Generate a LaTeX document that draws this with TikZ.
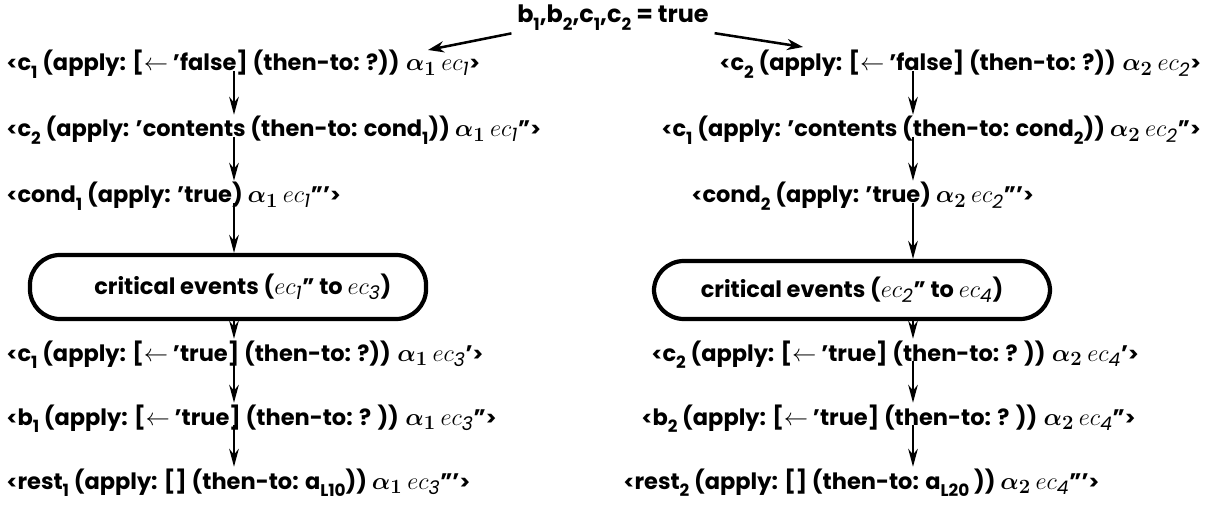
\documentclass[tikz,border=0pt]{standalone}
\usepackage{fontspec}
\setmainfont{Poppins}
\usetikzlibrary{arrows.meta}
\newcommand\dn[1]{\raisebox{-.6ex}{\fontsize{12}{12}\selectfont #1}}
\newcommand\ecs[1]{{\fontsize{19}{21}\selectfont$ec_{\mathit{#1}}$}}
\newcommand\al[1]{{\fontsize{19}{21}\selectfont\boldmath$\alpha_{#1}$}}
\newcommand\la{$\leftarrow$}
\newcommand\lb{{\fontsize{14}{14}\selectfont<}}
\newcommand\rb{{\fontsize{14}{14}\selectfont>}}

\begin{document}
\begin{tikzpicture}[x=0.025cm,y=-0.025cm,
  event/.style={anchor=base west,inner sep=1pt,font=\bfseries\fontsize{16}{18}\selectfont},
  crit/.style={draw,rounded corners=0.75cm,line width=3pt,inner sep=0pt,minimum width=9.9cm,font=\bfseries\fontsize{16}{18}\selectfont},
  flow/.style={-{Stealth[length=4.5mm,width=2.4mm]},line width=1.5pt},
  split/.style={-{Stealth[open,length=4mm,width=2.8mm]},line width=1.8pt,shorten <=3pt}]
  \useasboundingbox (0,0) rectangle (1223,525);
  \coordinate (lx) at (234,0);
  \coordinate (rx) at (913,0);
  \node[font=\bfseries\fontsize{17}{19}\selectfont,inner sep=1pt] (top) at (613,18) {b\dn{1},b\dn{2},c\dn{1},c\dn{2} = true};
  \coordinate (lend) at (428,50);
  \coordinate (rend) at (803,47);
  \draw[split] (top.south west) -- (lend);
  \draw[split] (top.south east) -- (rend);
  % left thread
  \node[event] (l1) at (5,71) {\lb c\dn{1} (apply: [\la\ 'false] (then-to: ?)) \al{1} \ecs{1}\rb};
  \node[event] (l2) at (5,137) {\lb c\dn{2} (apply: 'contents (then-to: cond\dn{1})) \al{1} \ecs{1}''\rb};
  \node[event] (l3) at (5,203) {\lb cond\dn{1} (apply: 'true) \al{1} \ecs{1}'''\rb};
  \node[crit,minimum height=1.6cm] (ce1) at (228,287) {\hspace*{21pt}critical events (\ecs{1}'' to \ecs{3})};
  \node[event] (l5) at (5,361) {\lb c\dn{1} (apply: [\la\ 'true] (then-to: ?)) \al{1} \ecs{3}'\rb};
  \node[event] (l6) at (5,425) {\lb b\dn{1} (apply: [\la\ 'true] (then-to: ? )) \al{1} \ecs{3}''\rb};
  \node[event] (l7) at (5,489) {\lb rest\dn{1} (apply: [] (then-to: a\dn{L10})) \al{1} \ecs{3}'''\rb};
  % right thread
  \node[event] (r1) at (718,71) {\lb c\dn{2} (apply: [\la\ 'false] (then-to: ?)) \al{2} \ecs{2}\rb};
  \node[event] (r2) at (660,137) {\lb c\dn{1} (apply: 'contents (then-to: cond\dn{2})) \al{2} \ecs{2}''\rb};
  \node[event] (r3) at (690,203) {\lb cond\dn{2} (apply: 'true) \al{2} \ecs{2}'''\rb};
  \node[crit,minimum height=1.45cm] (ce2) at (852,290) {critical events (\ecs{2}'' to \ecs{4})};
  \node[event] (r5) at (650,361) {\lb c\dn{2} (apply: [\la\ 'true] (then-to: ? )) \al{2} \ecs{4}'\rb};
  \node[event] (r6) at (640,425) {\lb b\dn{2} (apply: [\la\ 'true] (then-to: ? )) \al{2} \ecs{4}''\rb};
  \node[event] (r7) at (622,489) {\lb rest\dn{2} (apply: [] (then-to: a\dn{L20} )) \al{2} \ecs{4}'''\rb};
  \draw[flow] (l1.base -| lx) -- (l2.north -| lx);
  \draw[flow] (l2.base -| lx) -- (l3.north -| lx);
  \draw[flow] (l3.base -| lx) -- (ce1.north -| lx);
  \draw[flow] (ce1.south -| lx) -- (l5.north -| lx);
  \draw[flow] (l5.base -| lx) -- (l6.north -| lx);
  \draw[flow] (l6.base -| lx) -- (l7.north -| lx);
  \draw[flow] (r1.base -| rx) -- (r2.north -| rx);
  \draw[flow] (r2.base -| rx) -- (r3.north -| rx);
  \draw[flow] (r3.base -| rx) -- (ce2.north -| rx);
  \draw[flow] (ce2.south -| rx) -- (r5.north -| rx);
  \draw[flow] (r5.base -| rx) -- (r6.north -| rx);
  \draw[flow] (r6.base -| rx) -- (r7.north -| rx);
\end{tikzpicture}
\end{document}
